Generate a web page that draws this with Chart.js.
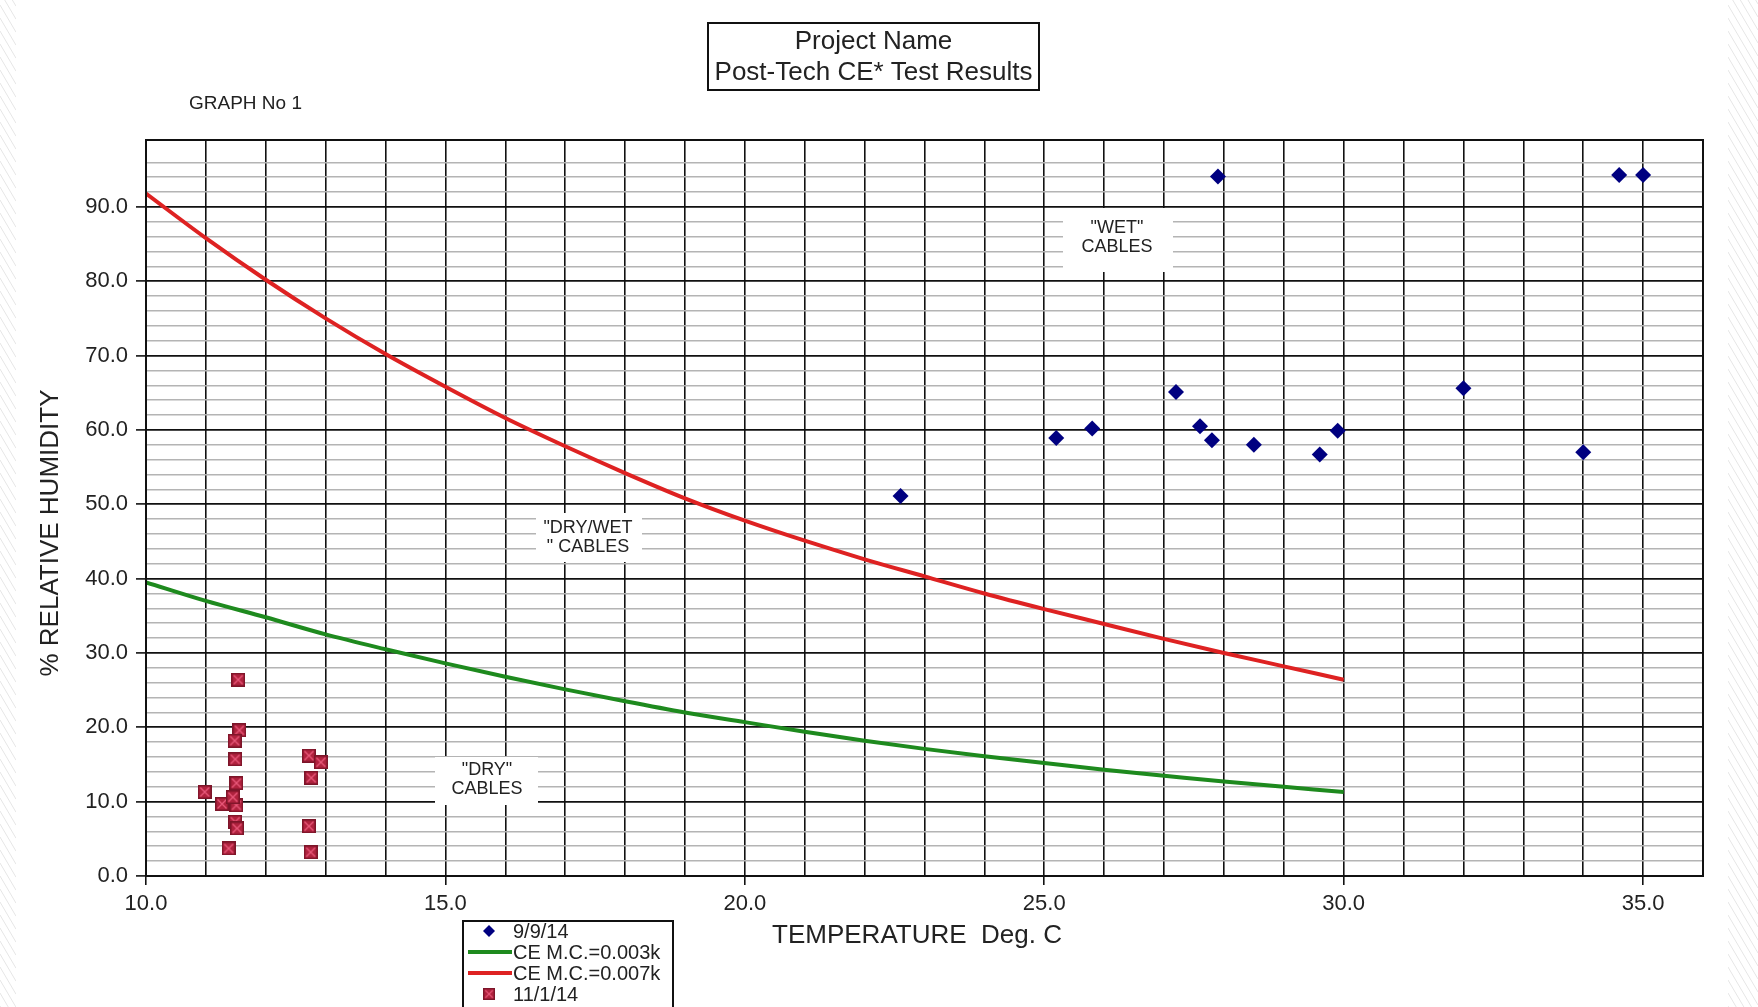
<!DOCTYPE html>
<html>
<head>
  <title>Post-Tech CE* Test Results</title>
  <style>
    html, body { margin: 0; padding: 0; background: #fff; }
    #wrap { width: 1758px; height: 1007px; position: relative; }
  </style>
  <script src="https://cdn.jsdelivr.net/npm/chart.js"></script>
</head>
<body>
<div id="wrap"><canvas id="graph"></canvas></div>
<script>
  // 9/9/14 readings: temperature (deg C) and % RH
  const sep9Temp = [22.6, 25.2, 25.8, 27.2, 27.6, 27.8, 28.5, 29.6, 29.9, 27.9, 32.0, 34.0, 34.6, 35.0];
  const sep9Hum  = [51.1, 58.9, 60.2, 65.1, 60.5, 58.6, 58.0, 56.7, 59.9, 94.1, 65.6, 57.0, 94.3, 94.3];

  // 11/1/14 readings
  const nov1Temp = [11.54, 11.56, 11.48, 11.49, 11.51, 10.98, 11.27, 11.51, 11.45, 11.49, 11.52, 11.38, 12.72, 12.92, 12.76, 12.72, 12.75];
  const nov1Hum  = [26.4, 19.6, 18.2, 15.7, 12.5, 11.3, 9.7, 9.5, 10.6, 7.3, 6.4, 3.7, 16.2, 15.3, 13.2, 6.7, 3.2];

  const curveTemp = [10, 11, 12, 13, 14, 15, 16, 17, 18, 19, 20, 21, 22, 23, 24, 25, 26, 27, 28, 29, 30];
  const ce003 = [39.5, 37.0, 34.8, 32.5, 30.5, 28.6, 26.8, 25.1, 23.5, 22.0, 20.7, 19.4, 18.2, 17.1, 16.1, 15.2, 14.3, 13.5, 12.7, 12.0, 11.3];
  const ce007 = [91.8, 85.8, 80.2, 75.0, 70.2, 65.8, 61.6, 57.8, 54.2, 50.8, 47.8, 45.1, 42.6, 40.3, 38.0, 35.9, 33.9, 31.9, 30.0, 28.2, 26.4];

  const titleLines = ['Project Name', 'Post-Tech CE* Test Results'];
  const graphLabel = 'GRAPH No 1';
  const xTitle = 'TEMPERATURE  Deg. C';
  const yTitle = '% RELATIVE HUMIDITY';
  const zoneNotes = [
    { lines: ['"WET"', 'CABLES'], x: 1117, y: 238, box: [1063, 208, 110, 64] },
    { lines: ['"DRY/WET', '" CABLES'], x: 588, y: 538, box: [536, 513, 106, 49] },
    { lines: ['"DRY"', 'CABLES'], x: 487, y: 780, box: [435, 757, 103, 48] }
  ];

  const FONT = '"Liberation Sans", Arial, sans-serif';

  function toPoints(xs, ys) {
    return xs.map((x, i) => ({ x: x, y: ys[i] }));
  }

  // small crimson square with a cross, like the original marker
  function crossSquare(size) {
    const c = document.createElement('canvas');
    c.width = size; c.height = size;
    const g = c.getContext('2d');
    g.fillStyle = '#b0223e';
    g.fillRect(0, 0, size, size);
    g.strokeStyle = '#7c1529';
    g.lineWidth = 1.5;
    g.strokeRect(0.75, 0.75, size - 1.5, size - 1.5);
    g.strokeStyle = '#e8587a';
    g.lineWidth = 1.4;
    g.beginPath();
    g.moveTo(2.5, 2.5); g.lineTo(size - 2.5, size - 2.5);
    g.moveTo(size - 2.5, 2.5); g.lineTo(2.5, size - 2.5);
    g.stroke();
    return c;
  }
  const squareMark = crossSquare(14);

  function hatch(ctx, x0, x1, h) {
    ctx.save();
    ctx.beginPath();
    ctx.rect(x0, 0, x1 - x0, h);
    ctx.clip();
    ctx.strokeStyle = '#e6e6e6';
    ctx.lineWidth = 1;
    ctx.beginPath();
    for (let y = -60; y < h + 60; y += 13) {
      ctx.moveTo(x0, y);
      ctx.lineTo(x1, y + (x1 - x0) * 1.7);
    }
    ctx.stroke();
    ctx.restore();
  }

  const decorations = {
    id: 'decorations',
    beforeDraw(chart) {
      hatch(chart.ctx, 0, 16, chart.height);
      hatch(chart.ctx, 1728, chart.width, chart.height);
    },
    beforeDatasetsDraw(chart) {
      const ctx = chart.ctx;
      ctx.save();
      ctx.font = '18px ' + FONT;
      ctx.textAlign = 'center';
      ctx.textBaseline = 'middle';
      zoneNotes.forEach(n => {
        ctx.fillStyle = '#fff';
        ctx.fillRect(n.box[0], n.box[1], n.box[2], n.box[3]);
        ctx.fillStyle = '#222';
        ctx.fillText(n.lines[0], n.x, n.y - 9.5);
        ctx.fillText(n.lines[1], n.x, n.y + 9.5);
      });
      ctx.restore();
    },
    afterDraw(chart) {
      const ctx = chart.ctx;
      const area = chart.chartArea;
      ctx.save();

      // frame around plot
      ctx.strokeStyle = '#111';
      ctx.lineWidth = 2;
      ctx.strokeRect(area.left, area.top, area.right - area.left, area.bottom - area.top);

      // title box
      ctx.fillStyle = '#fff';
      ctx.fillRect(708, 23, 331, 67);
      ctx.strokeStyle = '#111';
      ctx.lineWidth = 2;
      ctx.strokeRect(708, 23, 331, 67);
      ctx.fillStyle = '#222';
      ctx.font = '26px ' + FONT;
      ctx.textAlign = 'center';
      ctx.textBaseline = 'middle';
      ctx.fillText(titleLines[0], 873.5, 42);
      ctx.fillText(titleLines[1], 873.5, 73);

      ctx.font = '19px ' + FONT;
      ctx.textAlign = 'left';
      ctx.fillText(graphLabel, 189, 104);

      // axis titles
      ctx.font = '26px ' + FONT;
      ctx.textAlign = 'center';
      ctx.fillText(xTitle, 917, 936);
      ctx.save();
      ctx.translate(51, 533);
      ctx.rotate(-Math.PI / 2);
      ctx.fillText(yTitle, 0, 0);
      ctx.restore();

      // legend box
      const lx = 463, ly = 921, lw = 210;
      ctx.fillStyle = '#fff';
      ctx.fillRect(lx, ly, lw, 100);
      ctx.strokeStyle = '#111';
      ctx.lineWidth = 2;
      ctx.strokeRect(lx, ly, lw, 100);
      ctx.font = '20px ' + FONT;
      ctx.textAlign = 'left';
      const rowY = [931, 952, 973, 994];
      chart.data.datasets.forEach((ds, i) => {
        const y = rowY[i];
        if (ds.showLine) {
          ctx.strokeStyle = ds.borderColor;
          ctx.lineWidth = 4;
          ctx.beginPath();
          ctx.moveTo(468, y); ctx.lineTo(512, y);
          ctx.stroke();
        } else if (ds.pointStyle === 'rectRot') {
          ctx.fillStyle = ds.backgroundColor;
          ctx.beginPath();
          ctx.moveTo(489, y - 6); ctx.lineTo(495, y); ctx.lineTo(489, y + 6); ctx.lineTo(483, y);
          ctx.closePath();
          ctx.fill();
        } else {
          ctx.drawImage(squareMark, 483, y - 6, 12, 12);
        }
        ctx.fillStyle = '#222';
        ctx.fillText(ds.label, 513, y + 1);
      });

      ctx.restore();
    }
  };

  const chart = new Chart(document.getElementById('graph'), {
    type: 'scatter',
    data: {
      datasets: [
        {
          label: '9/9/14',
          data: toPoints(sep9Temp, sep9Hum),
          pointStyle: 'rectRot',
          pointRadius: 8,
          pointHoverRadius: 8,
          backgroundColor: '#000080',
          borderColor: '#000080',
          pointBorderWidth: 0
        },
        {
          label: 'CE M.C.=0.003k',
          data: toPoints(curveTemp, ce003),
          showLine: true,
          borderColor: '#1e8a1e',
          backgroundColor: '#1e8a1e',
          borderWidth: 4,
          pointRadius: 0,
          cubicInterpolationMode: 'monotone'
        },
        {
          label: 'CE M.C.=0.007k',
          data: toPoints(curveTemp, ce007),
          showLine: true,
          borderColor: '#de2222',
          backgroundColor: '#de2222',
          borderWidth: 4,
          pointRadius: 0,
          cubicInterpolationMode: 'monotone'
        },
        {
          label: '11/1/14',
          data: toPoints(nov1Temp, nov1Hum),
          pointStyle: squareMark,
          pointRadius: 7,
          backgroundColor: '#b0223e',
          borderColor: '#7c1529'
        }
      ]
    },
    options: {
      responsive: true,
      maintainAspectRatio: false,
      animation: false,
      layout: { padding: { left: 0, top: 140, right: 55, bottom: 0 } },
      plugins: {
        legend: { display: false },
        title: { display: false },
        tooltip: { enabled: false }
      },
      scales: {
        x: {
          type: 'linear',
          min: 10,
          max: 36,
          afterFit: s => { s.height = 131; },
          border: { color: '#111', width: 2 },
          grid: {
            color: '#111',
            lineWidth: 1.6,
            tickLength: 9,
            tickColor: c => (c.tick && c.tick.value % 5 === 0) ? '#111' : 'rgba(0,0,0,0)',
            tickWidth: 1.6
          },
          ticks: {
            stepSize: 1,
            autoSkip: false,
            maxRotation: 0,
            padding: 6,
            color: '#222',
            font: { family: FONT, size: 22 },
            callback: v => v % 5 === 0 ? v.toFixed(1) : ''
          }
        },
        y: {
          min: 0,
          max: 99,
          afterFit: s => { s.width = 146; },
          border: { color: '#111', width: 2 },
          grid: {
            color: c => (c.tick && c.tick.value % 10 === 0) ? '#111' : '#b4b4b4',
            lineWidth: c => (c.tick && c.tick.value % 10 === 0) ? 1.8 : 1.6,
            tickLength: 10,
            tickColor: c => (c.tick && c.tick.value % 10 === 0) ? '#111' : 'rgba(0,0,0,0)',
            tickWidth: 1.6
          },
          ticks: {
            stepSize: 2,
            autoSkip: false,
            padding: 8,
            color: '#222',
            font: { family: FONT, size: 22 },
            callback: v => v % 10 === 0 ? v.toFixed(1) : ''
          }
        }
      }
    },
    plugins: [decorations]
  });
</script>
</body>
</html>
